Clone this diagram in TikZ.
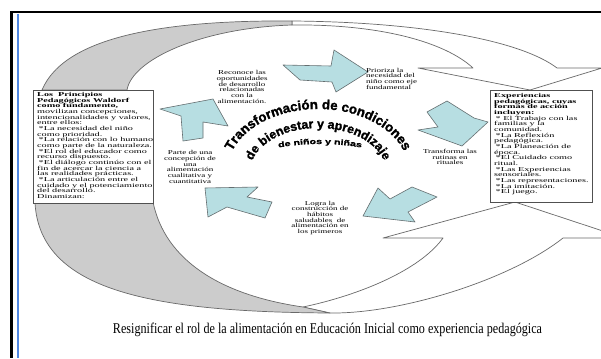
\documentclass[tikz,border=0pt]{standalone}
\usepackage{fontspec}
\setmainfont{Liberation Serif}
\newfontfamily\boxfont[FakeStretch=1.5]{Liberation Serif}
\newfontfamily\boxwide[FakeStretch=1.7]{Liberation Serif}
\newfontfamily\arcfont[FakeBold=1.6]{Liberation Sans}
\newfontfamily\arcwide[FakeStretch=1.4,FakeBold=1.2]{Liberation Sans}
\usetikzlibrary{decorations.text}
\definecolor{cycfill}{RGB}{183,222,226}
\definecolor{cycline}{RGB}{100,110,112}
\definecolor{bandfill}{RGB}{204,204,204}
\definecolor{bandline}{RGB}{105,105,105}
\definecolor{boxline}{RGB}{80,80,80}
\definecolor{stripe}{RGB}{80,135,225}
\begin{document}
\begin{tikzpicture}[x=1pt,y=-1pt,
  band/.style={fill=bandfill,draw=bandline,line width=0.7pt,line join=round},
  bigarrow/.style={fill=white,draw=bandline,line width=0.7pt,line join=round},
  cyc/.style={fill=cycfill,draw=cycline,line width=0.6pt,line join=round},
  txtbox/.style={draw=boxline,line width=0.9pt,fill=white,inner sep=0pt,anchor=north west},
  boxtxt/.style={font=\boxwide\fontsize{6}{5.67}\selectfont,align=left,inner sep=0pt,anchor=north west},
  lbl/.style={font=\boxfont\fontsize{6}{5.67}\selectfont,align=center,inner sep=0pt}]
\useasboundingbox (0,0) rectangle (601,358);
\fill[white] (0,0) rectangle (601,358);

% top big curved arrow
\path[bigarrow] (292,21) .. controls (420,22) and (520,40) .. (557,68) -- (602,68) -- (530,90) -- (418,68) -- (473,68) .. controls (445,42) and (380,24) .. (292,25) -- cycle;
\path[band] (42,90) .. controls (65,35) and (170,20) .. (292,21) -- (292,25) .. controls (200,28) and (132,60) .. (127,90) -- cycle;

% bottom big curved arrow
\path[bigarrow] (330,313) .. controls (400,314) and (510,280) .. (563,238) -- (624,238) -- (515,202) -- (383,238) -- (443,238) .. controls (420,270) and (360,295) .. (303,307) -- cycle;
\path[band] (35,203) .. controls (40,290) and (150,312) .. (330,313) -- (303,307) .. controls (220,295) and (165,260) .. (153,202) -- cycle;

% boxes
\node[txtbox, minimum width=120pt, minimum height=113pt] (lbox) at (33,90) {};
\node[txtbox, minimum width=102pt, minimum height=112pt] (rbox) at (490,90) {};

\node[boxtxt] (ltext) at (37,92) {\bfseries Los\ \ Principios\\
\bfseries Pedagógicos Waldorf\\
\bfseries como fundamento,\\
movilizan concepciones,\\
intencionalidades y valores,\\
entre ellos:\\
\hspace{1.5pt}*La necesidad del niño\\
como prioridad.\\
\hspace{1.5pt}*La relación con lo humano\\
como parte de la naturaleza.\\
\hspace{1.5pt}*El rol del educador como\\
recurso dispuesto.\\
\hspace{1.5pt}*El diálogo continúo con el\\
fin de acercar la ciencia a\\
las realidades prácticas.\\
\hspace{1.5pt}*La articulación entre el\\
cuidado y el potenciamiento\\
del desarrollo.\\
Dinamizan:};

\node[boxtxt] (rtext) at (494,93) {\bfseries Experiencias\\
\bfseries pedagógicas, cuyas\\
\bfseries formas de acción\\
\bfseries incluyen:\\
\hspace{1.5pt}* El Trabajo con las\\
familias y la\\
comunidad.\\
\hspace{1.5pt}*La Reflexión\\
pedagógica.\\
\hspace{1.5pt}*La Planeación de\\
época.\\
\hspace{1.5pt}*El Cuidado como\\
ritual.\\
\hspace{1.5pt}*Las Experiencias\\
sensoriales.\\
\hspace{1.5pt}*Las representaciones.\\
\hspace{1.5pt}*La imitación.\\
\hspace{1.5pt}*El juego.};

% cycle arrows
\path[cyc] (283,65) -- (331,66) -- (334,50) -- (368,72) -- (336,92) -- (332,82) -- (300,80) -- cycle;
\path[cyc] (427,112) -- (447,101) -- (474,118) -- (488,122) -- (462,146) -- (418,130) -- (438,127) -- cycle;
\path[cyc] (412,187) -- (437,197) -- (408,212) -- (415,222) -- (363,216) -- (378,188) -- (390,199) -- cycle;
\path[cyc] (205,188) -- (258,187) -- (247,197) -- (272,202) -- (265,218) -- (227,207) -- (208,217) -- cycle;
\path[cyc] (160,109) -- (213,99) -- (228,126) -- (203,122) -- (203,138) -- (183,141) -- (181,116) -- cycle;

% labels
\node[lbl] (reconoce) at (242,87) {Reconoce las\\oportunidades\\de desarrollo\\relacionadas\\con la\\alimentación.};
\node[lbl, anchor=west, align=left] (prioriza) at (366,78.5) {Prioriza la\\necesidad del\\niño como eje\\fundamental};
\node[lbl] (transforma) at (450,157) {Transforma las\\rutinas en\\rituales};
\node[lbl] (logra) at (320,218) {Logra la\\construcción de\\hábitos\\saludables\ \ de\\alimentación en\\los primeros};
\node[lbl] (parte) at (190,167) {Parte de una\\concepción de\\una\\alimentación\\cualitativa y\\cuantitativa};

% curved central title
\path[decorate, decoration={text along path, text align=center,
  text={|\arcfont\bfseries\fontsize{13.3}{14}\selectfont|Transformación de condiciones}}]
  (227,172) .. controls (227,137.2) and (267.7,109) .. (318,109)
  .. controls (368.3,109) and (409,137.2) .. (409,172);
\path[decorate, decoration={text along path, text align=center,
  text={|\arcfont\bfseries\fontsize{12.4}{14}\selectfont|de bienestar y aprendizaje}}]
  (250,172) .. controls (250,147.7) and (280.4,128) .. (318,128)
  .. controls (355.6,128) and (386,147.7) .. (386,172);
\path[decorate, decoration={text along path, text align=center,
  text={|\arcwide\bfseries\fontsize{7.6}{8}\selectfont|de niños y niñas}}]
  (256,153) .. controls (295,141) and (345,141) .. (384,153);

% caption
\node[inner sep=0pt, anchor=base] (caption) at (327.5,333) {\resizebox{429pt}{10.5pt}{\fontsize{15}{15}\selectfont Resignificar el rol de la alimentación en Educación Inicial como experiencia pedagógica}};

% frame
\draw[line width=2.5pt] (10,12) -- (601,12);
\draw[line width=3pt] (11.5,12) -- (11.5,358);
\draw[stripe, line width=2pt] (17.5,14) -- (17.5,358);
\end{tikzpicture}
\end{document}
